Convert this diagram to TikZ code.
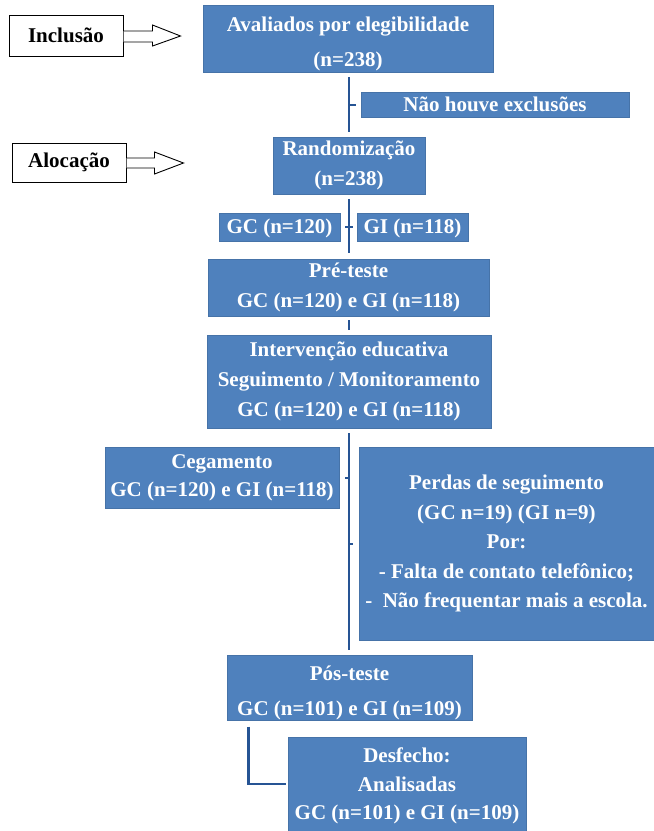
\documentclass[tikz,border=0pt]{standalone}
\usepackage{fontspec}
\setmainfont{Liberation Serif}
\definecolor{boxblue}{RGB}{79,129,189}
\definecolor{boxedge}{RGB}{70,115,168}
\definecolor{linkblue}{RGB}{38,84,148}
\tikzset{
  bluebox/.style={rectangle, fill=boxblue, draw=boxedge, line width=0.6pt, text=white,
    align=center, inner sep=0pt, font=\fontsize{21}{30}\selectfont\bfseries},
  labelbox/.style={rectangle, fill=white, draw=black, line width=1pt, inner sep=0pt,
    font=\fontsize{21}{25}\selectfont\bfseries},
  blockarrow/.style={draw=black, fill=white, line width=0.9pt, line join=miter},
  conn/.style={draw=linkblue, line width=2.8pt}
}
\begin{document}
\begin{tikzpicture}[x=1pt,y=-1pt]
\useasboundingbox (0,0) rectangle (654,831);

% side labels
\node[labelbox, minimum width=114pt, minimum height=41pt] (inc) at (66,35.5) {Inclusão};
\node[labelbox, minimum width=114pt, minimum height=39pt] (alo) at (69,162.5) {Alocação};

% block arrows
\draw[blockarrow] ([yshift=4.5pt]inc.east) -- ++(29,0) -- ++(0,-6) -- ++(28,11) -- ++(-28,10) -- ++(0,-4) -- ([yshift=-6.5pt]inc.east);
\draw[blockarrow] ([yshift=4.5pt]alo.east) -- ++(28,0) -- ++(0,-6) -- ++(29,11) -- ++(-29,11) -- ++(0,-6) -- ([yshift=-5.5pt]alo.east);

% flow boxes
\node[bluebox, minimum width=290pt, minimum height=67pt,
      font=\fontsize{21}{35}\selectfont\bfseries] (aval) at (348,38.5)
      {\rule{0pt}{25pt}Avaliados por elegibilidade\\(n=238)};
\node[bluebox, minimum width=268pt, minimum height=25pt] (exc) at (495,104.5)
      {Não houve exclusões};
\node[bluebox, minimum width=152pt, minimum height=57pt] (rand) at (349,165.5)
      {Randomização\\(n=238)};
\node[bluebox, minimum width=121pt, minimum height=28pt] (gc) at (279.5,227)
      {\rule{0pt}{17pt}GC (n=120)};
\node[bluebox, minimum width=111pt, minimum height=28pt] (gi) at (412.5,227)
      {\rule{0pt}{17pt}GI (n=118)};
\node[bluebox, minimum width=281pt, minimum height=57pt] (pre) at (348.5,287.5)
      {Pré-teste\\GC (n=120) e GI (n=118)};
\node[bluebox, minimum width=284pt, minimum height=93pt] (int) at (349,381.5)
      {Intervenção educativa\\Seguimento / Monitoramento\\GC (n=120) e GI (n=118)};
\node[bluebox, minimum width=234pt, minimum height=61pt,
      font=\fontsize{21}{28}\selectfont\bfseries] (ceg) at (222,477.5)
      {Cegamento\\GC (n=120) e GI (n=118)};
\node[bluebox, minimum width=295pt, minimum height=193pt,
      font=\fontsize{21}{29.5}\selectfont\bfseries] (perd) at (506.5,543.5)
      {Perdas de seguimento\\(GC n=19) (GI n=9)\\Por:\\- Falta de contato telefônico;\\-\ \ Não frequentar mais a escola.};
\node[bluebox, minimum width=245pt, minimum height=60pt,
      font=\fontsize{21}{35}\selectfont\bfseries] (pos) at (349.5,688)
      {\rule{0pt}{25pt}Pós-teste\\GC (n=101) e GI (n=109)};
\node[bluebox, minimum width=238pt, minimum height=94pt,
      font=\fontsize{21}{28.5}\selectfont\bfseries] (desf) at (407,784)
      {\rule{0pt}{19pt}Desfecho:\\Analisadas\\GC (n=101) e GI (n=109)};

% connectors
\draw[conn, shorten <=5pt, shorten >=5pt] (rand.north |- aval.south) -- (rand.north);
\draw[conn, line width=2pt] (rand.north |- exc.west) -- ([xshift=-5pt]exc.west);

\draw[conn, shorten <=5pt, shorten >=6pt] (rand.south) -- (rand.south |- pre.north);
\draw[conn, line width=2pt] ([xshift=5pt]gc.east) -- ([xshift=-4pt]gi.west);

\draw[conn, shorten <=4pt, shorten >=5pt] (int.north |- pre.south) -- (int.north);

\draw[conn, shorten <=5pt, shorten >=5pt] (int.south) -- (int.south |- pos.north);
\draw[conn, line width=2pt] ([yshift=-0.5pt]int.south |- ceg.east) -- ([xshift=6pt,yshift=-0.5pt]ceg.east);
\draw[conn, line width=2pt] (int.south |- perd.west) -- ([xshift=-6pt]perd.west);

\draw[conn] ([xshift=22pt,yshift=-6pt]pos.south west) |- ([xshift=-2pt]desf.west);
\end{tikzpicture}
\end{document}
